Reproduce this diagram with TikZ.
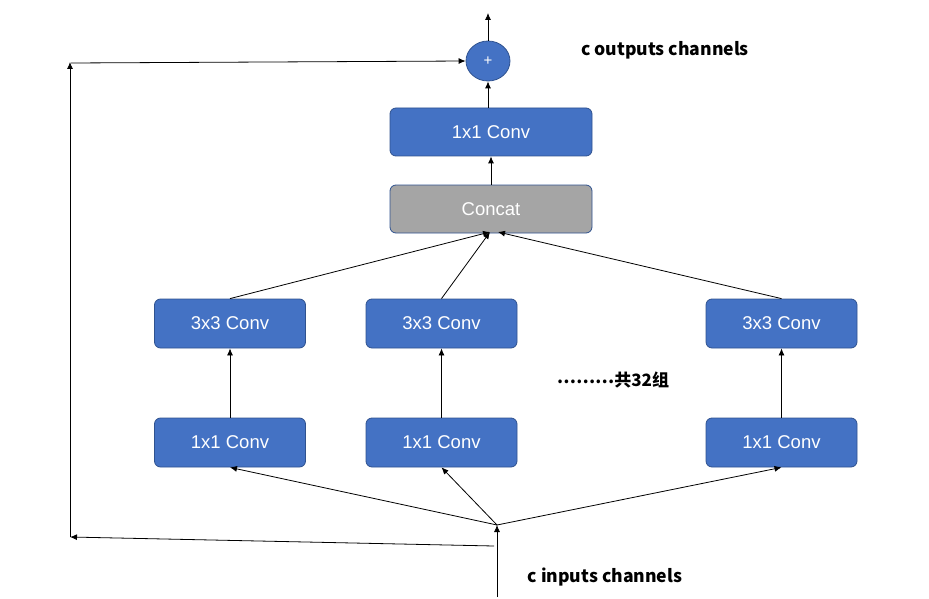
\documentclass[tikz,border=0pt]{standalone}
\usepackage{fontspec}
\setmainfont{Liberation Sans}
\newfontfamily\cjk{Noto Sans CJK SC}
\usetikzlibrary{arrows.meta,shapes.geometric}
\definecolor{boxblue}{HTML}{4472C4}
\definecolor{boxedge}{HTML}{2F528F}
\definecolor{boxgrey}{HTML}{A5A5A5}
\tikzset{
  convbox/.style={draw=boxedge, line width=0.8pt, fill=boxblue, rounded corners=6pt,
    minimum width=151pt, minimum height=49pt, inner sep=0pt, text=white,
    font=\fontsize{18.5}{21}\selectfont},
  widebox/.style={convbox, minimum width=202pt, minimum height=48pt},
  greybox/.style={widebox, fill=boxgrey},
  arr/.style={line width=0.8pt, -{Latex[length=7pt,width=6pt]}},
  lbl/.style={font=\cjk\bfseries\fontsize{17.6}{20}\selectfont, inner sep=0pt}
}
\begin{document}
\begin{tikzpicture}[x=1pt,y=-1pt]
\useasboundingbox (0,0) rectangle (929,599);
% nodes
\node[convbox] (a1) at (230,442.5) {1x1 Conv};
\node[convbox] (b1) at (441.5,442.5) {1x1 Conv};
\node[convbox] (c1) at (781.5,442.5) {1x1 Conv};
\node[convbox] (a3) at (230,323.5) {3x3 Conv};
\node[convbox] (b3) at (441.5,323.5) {3x3 Conv};
\node[convbox] (c3) at (781.5,323.5) {3x3 Conv};
\node[greybox] (concat) at (491,209) {Concat};
\node[widebox] (top) at (491,132) {1x1 Conv};
\node[ellipse, draw=boxedge, line width=0.8pt, fill=boxblue, minimum width=44pt,
  minimum height=40pt, inner sep=0pt, text=white, font=\fontsize{15}{16}\selectfont] (plus) at (488,61) {+};
\node[lbl] (outl) at (665,50) {c outputs channels};
\node[lbl] (inl) at (605,577) {c inputs channels};
\node[font=\cjk\bfseries\fontsize{17}{20}\selectfont, inner sep=0pt] (grp) at (613,380) {\raisebox{3pt}{………}共32组};
% coordinates
\coordinate (in) at (497,597);
\coordinate (j) at (497,525);
\coordinate (s0) at (494,546);
\coordinate (s1) at (70,537);
\coordinate (s2) at (70,62);
\coordinate (s3) at (71,63);
\coordinate (cL) at (490,232);
\coordinate (cR) at (498,232);
\coordinate (out) at (488,13);
% connectors
\draw[arr] (in) -- (j);
\draw[arr] (j) -- (a1.south);
\draw[arr] (j) -- (b1.south);
\draw[arr] (j) -- (c1.south);
\draw[arr] (a1.north) -- (a3.south);
\draw[arr] (b1.north) -- (b3.south);
\draw[arr] (c1.north) -- (c3.south);
\draw[arr] (a3.north) -- (cL);
\draw[arr] (b3.north) -- (cL);
\draw[arr] (c3.north) -- (cR);
\draw[arr] (concat.north) -- (top.south);
\draw[arr] ([xshift=-3pt]top.north) -- (plus.south);
\draw[arr] (plus.north) -- (out);
\draw[arr] (s0) -- (s1);
\draw[arr] (s1) -- (s2);
\draw[arr] (s3) -- (plus.west);
\end{tikzpicture}
\end{document}
